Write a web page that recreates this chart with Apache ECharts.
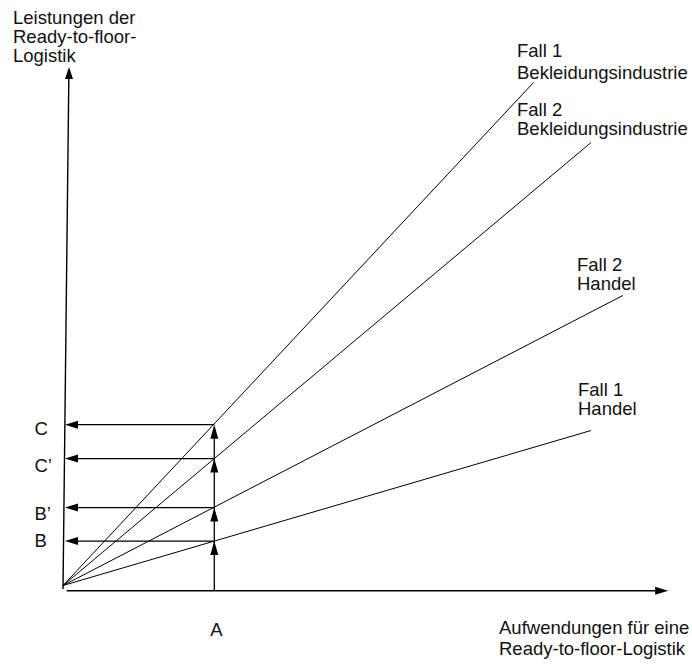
<!DOCTYPE html>
<html><head><meta charset="utf-8">
<script src="https://cdn.jsdelivr.net/npm/echarts@6.0.0/dist/echarts.min.js"></script>
<style>html,body{margin:0;padding:0;background:#fff}#c{width:692px;height:664px}</style>
</head><body><div id="c"></div>
<script>
// ---- data ----
const levelLabels = ['B', 'B’', 'C’', 'C'];
const levelValues = [0.444, 0.779, 1.269, 1.608];
const aLabel = 'A';
const aValue = 1;
const caseLabels = ['Fall 1\nBekleidungsindustrie', 'Fall 2\nBekleidungsindustrie', 'Fall 2\nHandel', 'Fall 1\nHandel'];
const caseEndX = [3.11, 3.49, 3.70, 3.49];
const caseEndY = [5.03, 4.43, 2.90, 1.55];
const yAxisTitle = 'Leistungen der\nReady-to-floor-\nLogistik';
const xAxisTitle = 'Aufwendungen für eine\nReady-to-floor-Logistik';

// ---- layout ----
const X_MIN = 0, X_MAX = 4, Y_MIN = 0, Y_MAX = 5.5;
const G = {left: 63, top: 35.5, width: 605.2, height: 550};
const pxX = G.width / (X_MAX - X_MIN), pxY = G.height / (Y_MAX - Y_MIN);
const dx = p => p / pxX, dy = p => p / pxY;
const FONT = '"Liberation Sans", Arial, Helvetica, sans-serif';
const FS = 18.5;
const BLACK = '#000';

const chart = echarts.init(document.getElementById('c'), null, {renderer: 'svg'});

const series = [];
const lineBase = {type: 'line', symbol: 'none', silent: true, animation: false, clip: false, z: 2};

// rays
caseEndX.forEach((x, i) => {
  series.push(Object.assign({}, lineBase, {
    data: [[0, 0], [x, caseEndY[i]]],
    lineStyle: {color: BLACK, width: 1}
  }));
});

// axes
const xAxisLineY = -dy(5.2);
series.push(Object.assign({}, lineBase, {
  data: [[dx(3.7), xAxisLineY], [X_MAX - dx(6), xAxisLineY]],
  lineStyle: {color: BLACK, width: 1.4}
}));
const yTopVal = (G.top + G.height - 67) / pxY; // tip of y-axis arrow
const yTopX = dx(6);
series.push(Object.assign({}, lineBase, {
  data: [[0, -dy(3.5)], [yTopX * 0.98, yTopVal - dy(6)]],
  lineStyle: {color: BLACK, width: 1.4}
}));

// horizontal arrows from A to y-axis
levelValues.forEach(v => {
  series.push(Object.assign({}, lineBase, {
    data: [[aValue, v], [dx(6), v]],
    lineStyle: {color: BLACK, width: 1.3}
  }));
});
// vertical line at A
series.push(Object.assign({}, lineBase, {
  data: [[aValue, xAxisLineY], [aValue, levelValues[levelValues.length - 1] - dy(6)]],
  lineStyle: {color: BLACK, width: 1.3}
}));

// arrowheads
const heads = [];
levelValues.forEach(v => {
  heads.push({value: [dx(2 + 6.5), v], symbolRotate: 90, symbolSize: [8, 13]});
  heads.push({value: [aValue, v - dy(7)], symbolRotate: 0, symbolSize: [8, 14]});
});
heads.push({value: [X_MAX - dx(6.5), xAxisLineY], symbolRotate: -90, symbolSize: [8, 13]});
heads.push({value: [yTopX, yTopVal - dy(6)], symbolRotate: 0, symbolSize: [8, 12]});
series.push({
  type: 'scatter', symbol: 'triangle', silent: true, animation: false, clip: false, z: 3,
  itemStyle: {color: BLACK, opacity: 1},
  data: heads
});

// ---- texts ----
const graphics = [];
function txt(s, x, y, align, lh) {
  graphics.push({
    type: 'text', x: x, y: y, silent: true,
    style: {text: s, fill: '#111', font: FS + 'px ' + FONT, lineHeight: lh || 16,
            textAlign: align || 'left', textVerticalAlign: lh ? 'top' : 'middle'}
  });
}
// y-axis title (top, lineHeight)
txt(yAxisTitle, 13, 7.5, 'left', 19);
// x-axis title
txt(xAxisTitle, 499, 616.5, 'left', 21);
// A
txt(aLabel, 216.5, 629.5, 'center');
// level labels
const levelLabelY = [540, 513, 465, 428];
levelLabels.forEach((s, i) => txt(s, 34.5, levelLabelY[i]));
// case labels: [x, top, lineHeight]
const casePos = [[517, 39.3, 22], [517, 99.75, 19], [577, 254.5, 19], [578, 380.25, 19]];
caseLabels.forEach((l, i) => txt(l, casePos[i][0], casePos[i][1], 'left', casePos[i][2]));

chart.setOption({
  animation: false,
  backgroundColor: '#fff',
  grid: {left: G.left, top: G.top, width: G.width, height: G.height, containLabel: false},
  xAxis: {type: 'value', min: X_MIN, max: X_MAX, show: false},
  yAxis: {type: 'value', min: Y_MIN, max: Y_MAX, show: false},
  series: series,
  graphic: graphics
});
</script>
</body></html>
